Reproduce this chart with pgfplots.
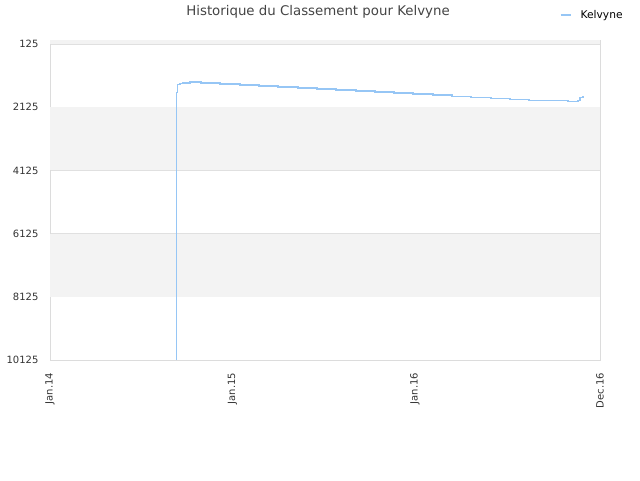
\documentclass[border=0pt]{standalone}
\usepackage{fontspec}
\setmainfont{DejaVu Sans}
\usepackage{pgfplots}
\pgfplotsset{compat=1.18}
\definecolor{linebl}{RGB}{150,198,245}
\definecolor{bandgray}{RGB}{243,243,243}
\definecolor{gridgray}{RGB}{224,224,224}
\definecolor{framegray}{RGB}{220,220,220}
\definecolor{ticktext}{RGB}{51,51,51}
\definecolor{titletext}{RGB}{68,68,68}

\pgfplotstableread{
day rank
253 10125
253 1668
255 1415
260 1383
266 1361
280 1329
302 1361
340 1393
380 1424
418 1456
456 1488
496 1519
534 1551
572 1583
612 1614
650 1646
688 1678
726 1709
766 1741
804 1782
842 1826
882 1858
920 1877
958 1908
998 1921
1036 1953
1056 1908
1060 1826
1066 1772
}\kelvyne

\begin{document}
\begin{tikzpicture}
% page = 640x480 px, 1px = 0.75pt
\useasboundingbox (0,0) rectangle (480pt,360pt);
\begin{axis}[at={(37.5pt,90pt)},anchor=south west,
  width=412.5pt,height=240pt,scale only axis,
  xmin=0,xmax=1100,ymin=0,ymax=10125,y dir=reverse,
  scaled x ticks=false,scaled y ticks=false,
  xtick={0,365,730,1100},xticklabels={Jan.14,Jan.15,Jan.16,Dec.16},
  ytick={125,2125,4125,6125,8125,10125},
  yticklabels={125,2125,4125,6125,8125,10125},
  major tick length=0,
  ymajorgrids,grid style={draw=gridgray,line width=0.6pt},
  axis line style={draw=framegray,line width=0.7pt},
  yticklabel style={font=\fontsize{7.5}{9}\selectfont,text=ticktext,
    inner sep=0pt,anchor=east,xshift=-8.5pt},
  xticklabel style={font=\fontsize{7.5}{9}\selectfont,text=ticktext,
    inner sep=0pt,rotate=90,anchor=east,xshift=-9.5pt},
  legend style={at={(0.927,1.078)},anchor=west,draw=none,fill=none,
    font=\fontsize{8}{9}\selectfont,inner sep=0pt,
    legend cell align=left},
  legend image code/.code={\draw[#1] (0pt,0pt) -- (7.5pt,0pt);},
  clip=true]
\fill[bandgray] (axis cs:0,0) rectangle (axis cs:1100,125);
\fill[bandgray] (axis cs:0,2125) rectangle (axis cs:1100,4125);
\fill[bandgray] (axis cs:0,6125) rectangle (axis cs:1100,8125);
\addplot[color=linebl,line width=0.9pt,const plot,mark=none]
  table[x=day,y=rank] {\kelvyne};
\addlegendentry{\hspace{5pt}Kelvyne}
\end{axis}
\node[font=\fontsize{10}{12}\selectfont,text=titletext] at (238.5pt,351pt)
  {Historique du Classement pour Kelvyne};
\end{tikzpicture}
\end{document}
